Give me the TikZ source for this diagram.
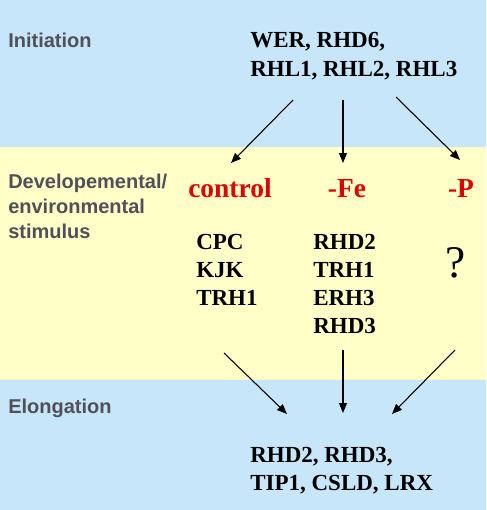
\documentclass[tikz,border=0pt]{standalone}
\usepackage{fontspec}
\setmainfont{Liberation Serif}
\newfontfamily\lsans{Liberation Sans}
\usetikzlibrary{arrows.meta}
\definecolor{bandblue}{RGB}{200,230,250}
\definecolor{bandyellow}{RGB}{255,255,200}
\definecolor{labgray}{RGB}{80,80,88}
\definecolor{condred}{RGB}{222,0,0}
\begin{document}
\begin{tikzpicture}[x=0.75pt,y=-0.75pt,
  stage/.style={anchor=base west,inner sep=0,font=\lsans\bfseries\fontsize{15}{18.75}\selectfont,text=labgray,align=left},
  genes/.style={anchor=base west,inner sep=0,font=\bfseries\fontsize{17.25}{21}\selectfont,align=left},
  cond/.style={anchor=base,inner sep=0,font=\bfseries\fontsize{20.6}{24}\selectfont,text=condred},
  arr/.style={-{Triangle[length=7.5pt,width=6pt]},line width=0.8pt}]
\fill[bandblue] (0,0) rectangle (486,147);
\fill[bandyellow] (0,147) rectangle (486,380);
\fill[bandblue] (0,380) rectangle (486,510);
\useasboundingbox (0,0) rectangle (486,510);

\node[stage] (sinit) at (8,48) {Initiation};
\node[stage] (sdev) at (8,238) {Developemental/\\environmental\\stimulus};
\node[stage] (selong) at (8,413) {Elongation};

\node[genes] (init) at (250,76) {WER, RHD6,\\RHL1, RHL2, RHL3};
\node[cond] (ctrl) at (230,197) {control};
\node[cond] (fe) at (347,197) {-Fe};
\node[cond] (p) at (461,197) {-P};
\node[genes] (cgenes) at (196,305) {CPC\\KJK\\TRH1};
\node[genes] (fegenes) at (313,333) {RHD2\\TRH1\\ERH3\\RHD3};
\node[anchor=base,inner sep=0,font=\fontsize{34}{34}\selectfont] (q) at (456,277) {?};
\node[genes] (elong) at (250,490) {RHD2, RHD3,\\TIP1, CSLD, LRX};

\coordinate (i1) at (293,100);
\coordinate (i2) at (343,100);
\coordinate (i3) at (396,97);
\coordinate (c1) at (231,163);
\coordinate (c2) at (343,163);
\coordinate (c3) at (460,160);
\coordinate (b1) at (224,353);
\coordinate (b2) at (343,350);
\coordinate (b3) at (455,350);
\coordinate (e1) at (287,414);
\coordinate (e2) at (343,413);
\coordinate (e3) at (392,414);

\draw[arr] (i1) -- (c1);
\draw[arr] (i2) -- (c2);
\draw[arr] (i3) -- (c3);
\draw[arr] (b1) -- (e1);
\draw[arr] (b2) -- (e2);
\draw[arr] (b3) -- (e3);
\end{tikzpicture}
\end{document}
